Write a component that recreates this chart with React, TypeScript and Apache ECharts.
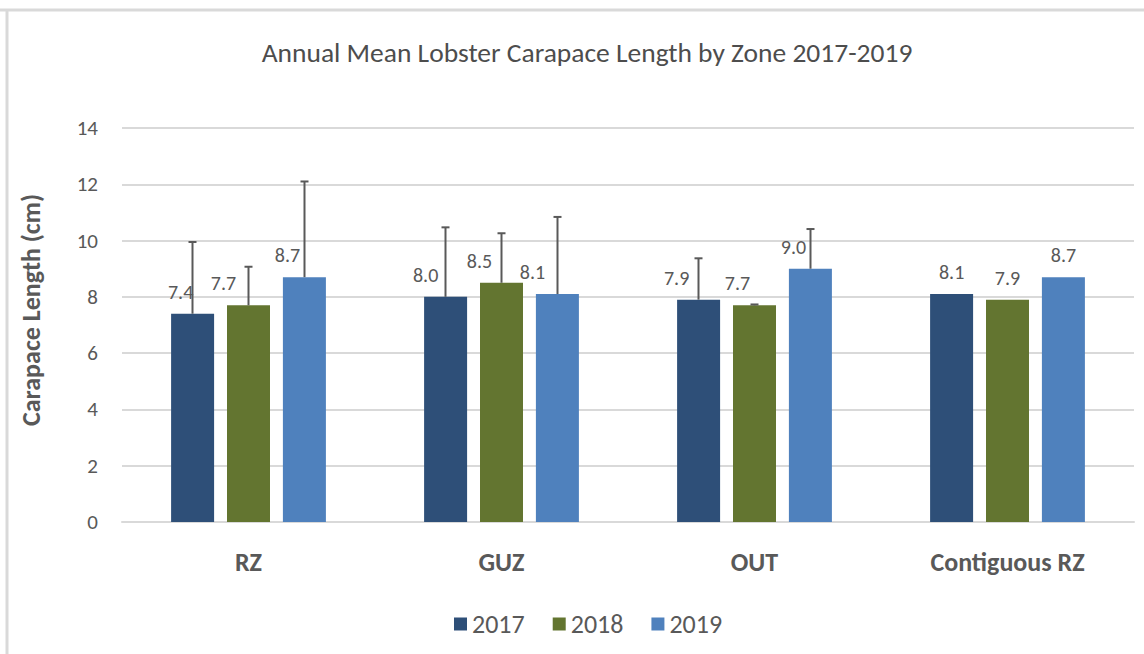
import React, { useEffect, useRef } from "react";
import * as echarts from "echarts";

const categories = ["RZ", "GUZ", "OUT", "Contiguous RZ"];
const years = ["2017", "2018", "2019"];
const values2017 = [7.4, 8.0, 7.9, 8.1];
const values2018 = [7.7, 8.5, 7.7, 7.9];
const values2019 = [8.7, 8.1, 9.0, 8.7];
// upper error bar end values (null = no error bar)
const errTop2017 = [9.95, 10.47, 9.37, null];
const errTop2018 = [9.07, 10.26, 7.73, null];
const errTop2019 = [12.1, 10.84, 10.41, null];
const yTicks = [0, 2, 4, 6, 8, 10, 12, 14];
const yAxisTitle = "Carapace Length (cm)";

const colors = ["#2E4F78", "#637530", "#4F81BD"];
const labelDx = [
  [-12, -20, -22, 0],
  [-25, -22, -17, 0],
  [-17, -25, -17, 0],
];

const FONT = "Carlito, Calibri, 'Liberation Sans Narrow', 'DejaVu Sans Condensed', sans-serif";
const BAR_W = 43;
const GAP = 13;

export default function App() {
  const ref = useRef<HTMLDivElement>(null);
  useEffect(() => {
    const chart = echarts.init(ref.current!, undefined, { renderer: "svg" });
    const allValues = [values2017, values2018, values2019];
    const allErr = [errTop2017, errTop2018, errTop2019];

    const barSeries = years.map((y, si) => ({
      name: y,
      type: "bar",
      barWidth: BAR_W,
      barGap: "30%",
      itemStyle: { color: colors[si] },
      label: {
        show: true,
        position: "top",
        distance: 12,
        color: "#595959",
        fontSize: 20,
        fontFamily: FONT,
        formatter: (p: any) => Number(p.value).toFixed(1),
      },
      data: allValues[si].map((v, ci) => ({
        value: v,
        label: { offset: [labelDx[si][ci], 0] },
      })),
      z: 2,
    }));

    const errSeries = years.map((y, si) => ({
      name: y + " err",
      type: "custom",
      z: 5,
      silent: true,
      data: allValues[si]
        .map((v, ci) => [ci, v, allErr[si][ci]])
        .filter((d) => d[2] !== null),
      renderItem: (params: any, api: any) => {
        const ci = api.value(0);
        const v = api.value(1);
        const top = api.value(2);
        const base = api.coord([ci, v]);
        const tp = api.coord([ci, top]);
        const x = base[0] + (si - 1) * (BAR_W + GAP);
        const style = { stroke: "#595959", lineWidth: 2 };
        return {
          type: "group",
          children: [
            { type: "line", shape: { x1: x, y1: base[1], x2: x, y2: tp[1] }, style },
            { type: "line", shape: { x1: x - 4, y1: tp[1], x2: x + 4, y2: tp[1] }, style },
          ],
        };
      },
    }));

    chart.setOption({
      animation: false,
      backgroundColor: "#ffffff",
      title: {
        text: "Annual Mean Lobster Carapace Length by Zone 2017-2019",
        left: 582,
        textAlign: "center",
        top: 33,
        textStyle: { color: "#4d4d4d", fontSize: 27.5, fontWeight: "normal", fontFamily: FONT },
      },
      legend: {
        data: years,
        left: 449,
        top: 606,
        itemWidth: 13,
        itemHeight: 13,
        itemGap: 28,
        icon: "rect",
        textStyle: { color: "#595959", fontSize: 26, fontFamily: FONT },
      },
      grid: { left: 122, right: 10, top: 128, bottom: 132 },
      xAxis: {
        type: "category",
        data: categories,
        axisLine: { lineStyle: { color: "#d9d9d9", width: 2 } },
        axisTick: { show: false },
        axisLabel: { color: "#595959", fontSize: 26, fontWeight: "bold", fontFamily: FONT, margin: 27 },
      },
      yAxis: {
        type: "value",
        min: 0,
        max: 14,
        interval: 2,
        axisLine: { show: false },
        axisTick: { show: false },
        splitLine: { lineStyle: { color: "#d9d9d9", width: 2 } },
        axisLabel: {
          color: "#595959",
          fontSize: 21,
          fontFamily: FONT,
          margin: 24,
          formatter: (v: number) => (yTicks.includes(v) ? String(v) : ""),
        },
      },
      graphic: [
        { type: "line", shape: { x1: 0, y1: 10, x2: 1144, y2: 10 }, style: { stroke: "#d9d9d9", lineWidth: 3 } },
        { type: "line", shape: { x1: 7, y1: 9, x2: 7, y2: 654 }, style: { stroke: "#d9d9d9", lineWidth: 3 } },
        {
          type: "text",
          x: 31,
          y: 310,
          rotation: Math.PI / 2,
          style: {
            text: yAxisTitle,
            align: "center",
            verticalAlign: "middle",
            fill: "#595959",
            fontSize: 26,
            fontWeight: "bold",
            fontFamily: FONT,
          },
        },
      ],
      series: [...barSeries, ...errSeries],
    });
    return () => chart.dispose();
  }, []);
  return <div ref={ref} style={{ width: 1144, height: 654, position: "absolute", left: 0, top: 0 }} />;
}
